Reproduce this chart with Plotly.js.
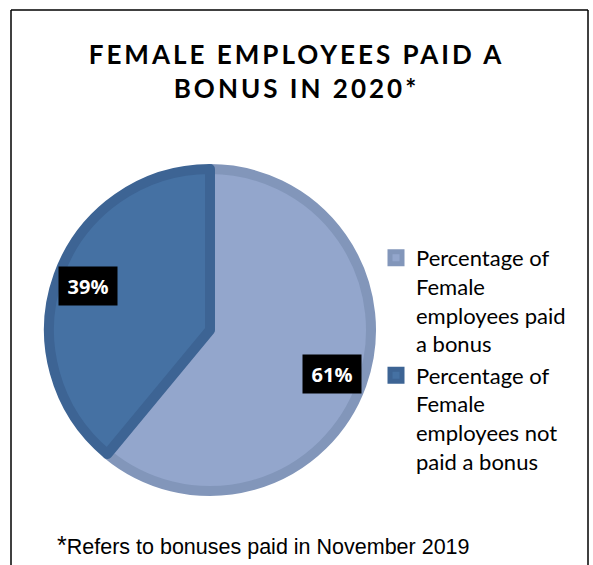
<!DOCTYPE html>
<html>
<head>
<meta charset="utf-8">
<script src="https://cdn.plot.ly/plotly-3.0.1.min.js"></script>
<style>
html,body{margin:0;padding:0;background:#fff;}
#chart{width:593px;height:565px;}
#chart .gtitle{letter-spacing:3px;}
</style>
</head>
<body>
<div id="chart"></div>
<script>
const categories = [
  "Percentage of<br>Female<br>employees paid<br>a bonus",
  "Percentage of<br>Female<br>employees not<br>paid a bonus"
];
const values = [61, 39];
const labelsText = ["61%", "39%"];
const fillColors = ["#93A6CC", "#4571A3"];
const lineColors = ["#8296BA", "#3D6494"];

const W = 593, H = 565;
const cx = 210, cy = 330, R = 166, LW = 10;
const Rd = R - LW / 2;
const domX = [(cx - Rd) / W, (cx + Rd) / W];
const domY = [(H - cy - Rd) / H, (H - cy + Rd) / H];

// label positions derived from the data (slice mid-angles, clockwise from top)
const total = values.reduce((a, b) => a + b, 0);
let acc = 0;
const annotations = values.map((v, i) => {
  const mid = (acc + v / 2) / total * 2 * Math.PI;
  acc += v;
  const rr = 0.78 * R;
  return {
    xref: 'paper', yref: 'paper',
    x: (cx + rr * Math.sin(mid)) / W,
    y: (H - cy + rr * Math.cos(mid)) / H,
    xanchor: 'center', yanchor: 'middle',
    text: '<b>' + labelsText[i] + '</b>',
    showarrow: false,
    bgcolor: '#000000',
    width: 46, height: 26,
    font: {family: 'Open Sans, sans-serif', size: 20, color: '#ffffff'},
    borderpad: 6
  };
});

annotations.push({
  xref: 'paper', yref: 'paper', x: 55 / W, y: (H - 545) / H,
  xanchor: 'left', yanchor: 'middle', showarrow: false,
  text: '<span style="font-size:25px">*</span>Refers to bonuses paid in November 2019',
  font: {family: 'Liberation Sans, Arial, sans-serif', size: 21.5, color: '#000'}
});

const data = [{
  type: 'pie',
  labels: categories,
  values: values,
  sort: false,
  direction: 'clockwise',
  rotation: 0,
  textinfo: 'none',
  hoverinfo: 'label+percent',
  marker: {colors: fillColors, line: {color: lineColors, width: LW}},
  domain: {x: domX, y: domY}
}];

const layout = {
  width: W, height: H,
  margin: {l: 0, r: 0, t: 0, b: 0},
  paper_bgcolor: '#ffffff',
  title: {
    text: '<b>FEMALE EMPLOYEES PAID A<br>BONUS IN 2020*</b>',
    x: 0.5, xanchor: 'center', xref: 'paper',
    y: 1 - 64 / H, yanchor: 'middle', yref: 'paper',
    font: {family: 'Lato, sans-serif', size: 26, color: '#000'}
  },
  showlegend: true,
  legend: {
    x: 376 / W, xanchor: 'left', y: 1 - 237 / H, yanchor: 'top',
    valign: 'top',
    font: {family: 'Lato, sans-serif', size: 22, color: '#000'},
    itemwidth: 30,
    bgcolor: 'rgba(0,0,0,0)'
  },
  annotations: annotations,
  shapes: [
    {type: 'line', xref: 'paper', yref: 'paper', x0: 11 / W, x1: 11 / W, y0: -0.05, y1: 1 - 10 / H, line: {color: '#000', width: 1.5}},
    {type: 'line', xref: 'paper', yref: 'paper', x0: 11 / W, x1: 588 / W, y0: 1 - 10 / H, y1: 1 - 10 / H, line: {color: '#000', width: 1.5}},
    {type: 'line', xref: 'paper', yref: 'paper', x0: 588 / W, x1: 588 / W, y0: -0.05, y1: 1 - 10 / H, line: {color: '#000', width: 1.5}}
  ]
};

Plotly.newPlot('chart', data, layout, {displayModeBar: false, staticPlot: true});
</script>
</body>
</html>
